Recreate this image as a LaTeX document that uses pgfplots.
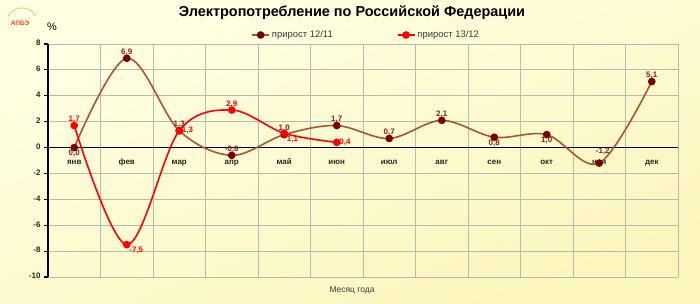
\documentclass[border=0pt]{standalone}
\usepackage{pgfplots}
\pgfplotsset{compat=1.18}
\usepackage{fontspec}
\setmainfont{Liberation Sans}
\usetikzlibrary{shadings}
\definecolor{brownline}{RGB}{170,85,45}
\definecolor{brownmark}{RGB}{120,0,0}
\definecolor{brownlab}{RGB}{140,30,30}
\definecolor{redline}{RGB}{255,0,0}
\definecolor{gridgray}{RGB}{185,185,180}
\definecolor{bgtop}{RGB}{255,255,228}
\definecolor{bgbot}{RGB}{251,246,188}
\definecolor{txtdark}{RGB}{40,40,40}
\definecolor{txtmid}{RGB}{60,60,60}
\definecolor{logoarc}{RGB}{240,200,120}
\definecolor{logotxt}{RGB}{220,80,20}

\pgfplotsset{
  lbl/.style 2 args={forget plot, draw=none, mark=none, nodes near coords, point meta=explicit symbolic,
    every node near coord/.append style={font=\bfseries\fontsize{8}{9}\selectfont, inner sep=2.5pt, anchor=#1, text=#2}},
}

\begin{document}
\begin{tikzpicture}
\shade[shading=axis, top color=bgtop, bottom color=bgbot, shading angle=20] (0,0) rectangle (700bp,304bp);

\node[font=\bfseries\fontsize{14.5}{16}\selectfont] at (352bp,291bp) {Электропотребление по Российской Федерации};
\node[font=\fontsize{11}{12}\selectfont] at (52bp,277bp) {\%};
\node[font=\fontsize{8.5}{10}\selectfont, text=txtmid] at (352bp,14bp) {Месяц года};
\draw[logoarc, line width=1pt] (8bp,288bp) arc[start angle=150, end angle=30, radius=16bp];
\node[font=\bfseries\fontsize{6.5}{7}\selectfont, text=logotxt] at (20bp,281bp) {АПБЭ};

\begin{axis}[
  at={(48bp,27bp)}, anchor=south west,
  scale only axis, width=630bp, height=233bp,
  xmin=-0.5, xmax=11.5, ymin=-10, ymax=8,
  axis x line*=middle, axis y line*=left,
  x axis line style={black, line width=1.3pt},
  y axis line style={black, line width=1.6pt},
  xtick={0,...,11},
  xticklabels={янв,фев,мар,апр,май,июн,июл,авг,сен,окт,ноя,дек},
  typeset ticklabels with strut,
  minor xtick={-0.5,0.5,...,11.5},
  xminorgrids=true, ymajorgrids=true,
  grid style={gridgray, line width=0.8pt},
  minor grid style={gridgray, line width=0.8pt},
  xtick style={draw=none},
  ytick={-10,-8,...,8},
  yticklabels={-10,-8,-6,-4,-2,0,2,4,6,8},
  ytick style={black, line width=1.2pt},
  tick align=outside, major tick length=4bp, minor tick length=0pt,
  x tick label style={font=\bfseries\fontsize{8}{9}\selectfont, text=txtdark, yshift=-3bp},
  y tick label style={font=\bfseries\fontsize{8}{9}\selectfont, text=txtdark},
  legend columns=2,
  legend style={draw=none, fill=none, at={(0.505,1)}, anchor=center, yshift=9bp,
    font=\fontsize{9.5}{10}\selectfont, text=txtmid,
    /tikz/every even column/.append style={column sep=62bp}},
  legend cell align=left,
]
\addplot[brownline, line width=1.6pt, smooth, tension=0.55,
  mark=*, mark size=3pt, mark options={fill=brownmark, draw=brownmark}]
  coordinates {(0,0.0) (1,6.9) (2,1.3) (3,-0.6) (4,1.0) (5,1.7) (6,0.7) (7,2.1) (8,0.8) (9,1.0) (10,-1.2) (11,5.1)};
\addlegendentry{прирост 12/11}
\addplot[redline, line width=1.6pt, smooth, tension=0.55,
  mark=*, mark size=3pt, mark options={fill=redline, draw=redline}]
  coordinates {(0,1.7) (1,-7.5) (2,1.3) (3,2.9) (4,1.1) (5,0.4)};
\addlegendentry{прирост 13/12}
% data labels
\addplot[lbl={south}{brownlab}] coordinates {(1,6.9) [6,9] (2,1.3) [1,3] (3,-0.6) [-0,6] (4,1.0) [1,0] (5,1.7) [1,7] (6,0.7) [0,7] (7,2.1) [2,1] (11,5.1) [5,1]};
\addplot[lbl={south west}{brownlab}, every node near coord/.append style={xshift=-6bp, yshift=6bp}] coordinates {(10,-1.2) [-1,2]};
\addplot[lbl={north}{brownlab}] coordinates {(0,0.0) [0,0] (8,0.8) [0,8] (9,1.0) [1,0]};
\addplot[lbl={south}{redline}] coordinates {(0,1.7) [1,7] (3,2.9) [2,9]};
\addplot[lbl={north west}{redline}] coordinates {(1,-7.5) [-7,5] (4,1.1) [1,1]};
\addplot[lbl={west}{redline}] coordinates {(2,1.3) [1,3] (5,0.4) [0,4]};
\end{axis}
\pgfresetboundingbox
\path[use as bounding box] (0,0) rectangle (700bp,304bp);
\end{tikzpicture}
\end{document}
